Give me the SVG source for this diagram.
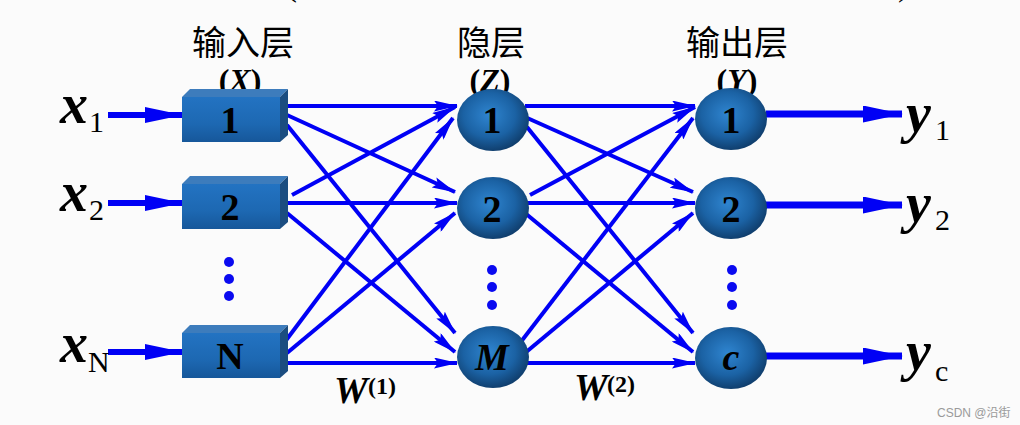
<svg xmlns="http://www.w3.org/2000/svg" width="1020" height="425" viewBox="0 0 1020 425">
<defs>
<style>
.zh{font-family:"Noto Sans CJK SC","Noto Sans",sans-serif;font-size:34px;fill:#000;text-anchor:middle}
.par{font-family:"Liberation Serif",serif;font-size:32px;font-weight:bold;fill:#000;text-anchor:middle}
.num{font-family:"Liberation Serif",serif;font-size:38px;font-weight:bold;fill:#000;text-anchor:middle}
.var{font-family:"Liberation Serif",serif;font-size:56px;font-weight:bold;font-style:italic;fill:#000}
.sub{font-family:"Liberation Serif",serif;font-size:30px;fill:#000}
.w{font-family:"Liberation Serif",serif;font-size:38px;font-weight:bold;font-style:italic;fill:#000}
.wsup{font-family:"Liberation Serif",serif;font-size:24px;font-weight:bold;fill:#000}
.conn{stroke:#0000f5;stroke-width:4;fill:none;marker-end:url(#ah)}
.io{stroke:#0000f5;fill:none}
.dot{fill:#0a0af0}
.front{fill:url(#gFront)}
.top{fill:#3d7cbc}
.side{fill:#1b4d80}
.nd{fill:url(#gNode)}
</style>
<linearGradient id="gFront" x1="0" y1="0" x2="0" y2="1">
<stop offset="0" stop-color="#2373c2"/>
<stop offset="0.6" stop-color="#1d68b2"/>
<stop offset="1" stop-color="#16579a"/>
</linearGradient>
<radialGradient id="gNode" cx="0.45" cy="0.42" r="0.6">
<stop offset="0" stop-color="#2f85d0"/>
<stop offset="0.6" stop-color="#1b62a4"/>
<stop offset="1" stop-color="#0f3c6a"/>
</radialGradient>
<marker id="ah" markerUnits="userSpaceOnUse" markerWidth="24" markerHeight="11" refX="23" refY="5.5" orient="auto">
<path d="M0,0 L24,5.5 L0,11 L4,5.5 z" fill="#0000f5"/>
</marker>
<marker id="ahIn" markerUnits="userSpaceOnUse" markerWidth="38" markerHeight="16" refX="37" refY="8" orient="auto">
<path d="M0,0 L38,8 L0,16 z" fill="#0000f5"/>
</marker>
<marker id="ahOut" markerUnits="userSpaceOnUse" markerWidth="40" markerHeight="17" refX="39" refY="8.5" orient="auto">
<path d="M0,0 L40,8.5 L0,17 z" fill="#0000f5"/>
</marker>
</defs>
<rect x="0" y="0" width="1020" height="425" fill="#fbfbfb"/>

<!-- cropped title fragments -->
<text x="285" y="-5" font-family="Liberation Serif, serif" font-size="36" fill="#000">(</text>
<text x="898" y="-5" font-family="Liberation Serif, serif" font-size="36" fill="#000">)</text>

<!-- layer titles -->
<g id="title-input">
<text class="zh" x="243" y="55">输入层</text>
<text class="par" x="240" y="91">(<tspan font-style="italic">X</tspan>)</text>
</g>
<g id="title-hidden">
<text class="zh" x="491" y="55">隐层</text>
<text class="par" x="490" y="91">(<tspan font-style="italic">Z</tspan>)</text>
</g>
<g id="title-output">
<text class="zh" x="737" y="55">输出层</text>
<text class="par" x="737" y="91">(<tspan font-style="italic">Y</tspan>)</text>
</g>

<!-- connectors -->
<g id="connectors">
<line class="io" x1="108" y1="115" x2="182" y2="115" stroke-width="6" marker-end="url(#ahIn)"/>
<line class="io" x1="108" y1="203" x2="182" y2="203" stroke-width="6" marker-end="url(#ahIn)"/>
<line class="io" x1="108" y1="352" x2="182" y2="352" stroke-width="6" marker-end="url(#ahIn)"/>
<line class="conn" x1="287" y1="106" x2="457" y2="106"/>
<line class="conn" x1="287" y1="115" x2="455" y2="192"/>
<line class="conn" x1="287" y1="125" x2="455" y2="333"/>
<line class="conn" x1="292" y1="195" x2="455" y2="107"/>
<line class="conn" x1="287" y1="203" x2="457" y2="203"/>
<line class="conn" x1="287" y1="213" x2="455" y2="352"/>
<line class="conn" x1="284" y1="343" x2="453" y2="118"/>
<line class="conn" x1="287" y1="353" x2="455" y2="213"/>
<line class="conn" x1="287" y1="363" x2="457" y2="363"/>
<line class="conn" x1="525" y1="106" x2="695" y2="106"/>
<line class="conn" x1="525" y1="117" x2="693" y2="192"/>
<line class="conn" x1="527" y1="127" x2="693" y2="333"/>
<line class="conn" x1="530" y1="195" x2="695" y2="107"/>
<line class="conn" x1="525" y1="203" x2="695" y2="203"/>
<line class="conn" x1="525" y1="213" x2="693" y2="352"/>
<line class="conn" x1="520" y1="343" x2="693" y2="118"/>
<line class="conn" x1="525" y1="353" x2="693" y2="213"/>
<line class="conn" x1="525" y1="363" x2="695" y2="363"/>
<line class="io" x1="766" y1="114" x2="902" y2="114" stroke-width="7" marker-end="url(#ahOut)"/>
<line class="io" x1="766" y1="205" x2="902" y2="205" stroke-width="7" marker-end="url(#ahOut)"/>
<line class="io" x1="766" y1="356" x2="902" y2="356" stroke-width="7" marker-end="url(#ahOut)"/>
</g>

<!-- input labels -->
<g id="label-x1"><text class="var" x="60" y="123">x</text><text class="sub" x="89" y="132">1</text></g>
<g id="label-x2"><text class="var" x="60" y="211">x</text><text class="sub" x="89" y="220">2</text></g>
<g id="label-xN"><text class="var" x="60" y="362">x</text><text class="sub" x="88" y="372">N</text></g>

<!-- input nodes -->
<g id="in-1">
<polygon class="top" points="182,97 190,89 288,89 280,97"/>
<polygon class="side" points="280,97 288,89 288,135 280,142"/>
<rect class="front" x="182" y="97" width="98" height="45"/>
<text class="num" x="230" y="133">1</text>
</g>
<g id="in-2">
<polygon class="top" points="182,184 190,176 288,176 280,184"/>
<polygon class="side" points="280,184 288,176 288,222 280,229"/>
<rect class="front" x="182" y="184" width="98" height="45"/>
<text class="num" x="230" y="220">2</text>
</g>
<g id="in-dots">
<circle class="dot" cx="229" cy="262" r="5"/>
<circle class="dot" cx="229" cy="279" r="5"/>
<circle class="dot" cx="229" cy="296" r="5"/>
</g>
<g id="in-N">
<polygon class="top" points="182,333 190,325 288,325 280,333"/>
<polygon class="side" points="280,333 288,325 288,371 280,378"/>
<rect class="front" x="182" y="333" width="98" height="45"/>
<text class="num" x="230" y="369">N</text>
</g>

<!-- hidden nodes -->
<g id="hid-1"><ellipse class="nd" cx="493" cy="120" rx="36" ry="31"/><text class="num" x="492" y="133">1</text></g>
<g id="hid-2"><ellipse class="nd" cx="493" cy="208" rx="36" ry="31"/><text class="num" x="492" y="222">2</text></g>
<g id="hid-dots">
<circle class="dot" cx="492" cy="270" r="5"/>
<circle class="dot" cx="492" cy="287" r="5"/>
<circle class="dot" cx="492" cy="305" r="5"/>
</g>
<g id="hid-M"><ellipse class="nd" cx="493" cy="357" rx="36" ry="31"/><text class="num" x="492" y="370" font-style="italic">M</text></g>

<!-- output nodes -->
<g id="out-1"><ellipse class="nd" cx="731" cy="119" rx="36" ry="31"/><text class="num" x="731" y="133">1</text></g>
<g id="out-2"><ellipse class="nd" cx="731" cy="208" rx="36" ry="31"/><text class="num" x="731" y="222">2</text></g>
<g id="out-dots">
<circle class="dot" cx="732" cy="270" r="5"/>
<circle class="dot" cx="732" cy="287" r="5"/>
<circle class="dot" cx="732" cy="305" r="5"/>
</g>
<g id="out-c"><ellipse class="nd" cx="731" cy="358" rx="36" ry="31"/><text class="num" x="731" y="370" font-style="italic">c</text></g>

<!-- output labels -->
<g id="label-y1"><text class="var" x="906" y="132">y</text><text class="sub" x="935" y="140">1</text></g>
<g id="label-y2"><text class="var" x="906" y="222">y</text><text class="sub" x="935" y="230">2</text></g>
<g id="label-yc"><text class="var" x="906" y="370">y</text><text class="sub" x="935" y="381">c</text></g>

<!-- weight labels -->
<g id="label-W1"><text class="w" x="334" y="403">W</text><text class="wsup" x="368" y="394">(1)</text></g>
<g id="label-W2"><text class="w" x="574" y="400">W</text><text class="wsup" x="607" y="392">(2)</text></g>

<text x="937" y="417" font-family="Liberation Sans, Noto Sans CJK SC, sans-serif" font-size="12" fill="#9a9a9a">CSDN @沿街</text>
</svg>
